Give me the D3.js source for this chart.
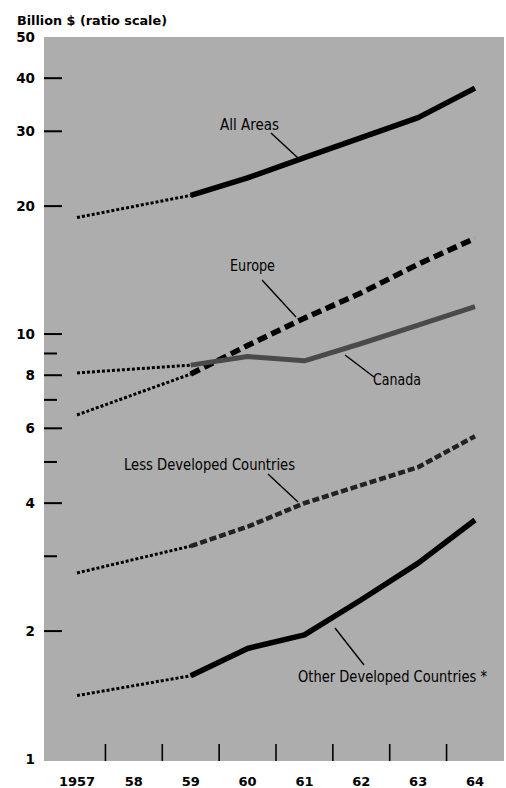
<!DOCTYPE html>
<html>
<head>
<meta charset="utf-8">
<script src="https://cdn.jsdelivr.net/npm/d3@7"></script>
<style>
  html, body { margin: 0; padding: 0; background: #ffffff; }
  svg { display: block; }
</style>
</head>
<body>
<div id="chart"></div>
<script>
// ---- data ----
const years = [1957, 1959, 1960, 1961, 1962, 1963, 1964];
const allAreas = [18.8, 21.2, 23.3, 26.0, 29.0, 32.3, 37.9];
const europe   = [6.45, 8.05, 9.4, 10.9, 12.5, 14.6, 16.8];
const canada   = [8.1, 8.45, 8.85, 8.65, 9.5, 10.5, 11.6];
const lessDeveloped  = [2.74, 3.17, 3.52, 4.0, 4.41, 4.86, 5.75];
const otherDeveloped = [1.41, 1.57, 1.82, 1.96, 2.37, 2.89, 3.65];

const xTickLabels = ["1957", "58", "59", "60", "61", "62", "63", "64"];
const xTickYears  = [1957, 1958, 1959, 1960, 1961, 1962, 1963, 1964];
const yLabeledTicks = [1, 2, 4, 6, 8, 10, 20, 30, 40, 50];
const yMinorTicks = [3, 5, 7, 9];
const yLongTicks = [2, 4, 6, 8, 10, 20, 30, 40];

const seriesNames = ["All Areas", "Europe", "Canada", "Less Developed Countries", "Other Developed Countries *"];

// ---- layout ----
const W = 506, H = 788;
const plot = { left: 44, right: 504, top: 37, bottom: 761 };

const svg = d3.select("#chart").append("svg").attr("width", W).attr("height", H);

const x = d3.scaleLinear().domain([1957, 1964]).range([77, 475]);
const y = d3.scaleLog().domain([1, 50]).range([759, 37]);

// background panel
svg.append("rect")
  .attr("x", plot.left).attr("y", plot.top)
  .attr("width", plot.right - plot.left).attr("height", plot.bottom - plot.top)
  .attr("fill", "#adadad");

// title
svg.append("text")
  .attr("x", 17).attr("y", 25)
  .attr("font-family", "DejaVu Sans, sans-serif")
  .attr("font-weight", "bold").attr("font-size", 13)
  .attr("textLength", 150).attr("lengthAdjust", "spacingAndGlyphs")
  .attr("fill", "#000")
  .text("Billion $ (ratio scale)");

// y ticks
const yAxisG = svg.append("g");
yAxisG.selectAll("line.long").data(yLongTicks).join("line")
  .attr("x1", plot.left).attr("x2", plot.left + 18)
  .attr("y1", d => y(d)).attr("y2", d => y(d))
  .attr("stroke", "#000").attr("stroke-width", 2);
yAxisG.selectAll("line.minor").data(yMinorTicks).join("line")
  .attr("x1", plot.left).attr("x2", plot.left + 13)
  .attr("y1", d => y(d)).attr("y2", d => y(d))
  .attr("stroke", "#000").attr("stroke-width", 2);
yAxisG.selectAll("text").data(yLabeledTicks).join("text")
  .attr("x", 35).attr("y", d => y(d) + 5)
  .attr("text-anchor", "end")
  .attr("font-family", "DejaVu Sans, sans-serif")
  .attr("font-weight", "bold").attr("font-size", 13.5)
  .attr("fill", "#000")
  .text(d => d);

// x ticks between years
const xMid = d3.range(1957.5, 1964, 1);
svg.append("g").selectAll("line").data(xMid).join("line")
  .attr("x1", d => x(d)).attr("x2", d => x(d))
  .attr("y1", plot.bottom - 17).attr("y2", plot.bottom)
  .attr("stroke", "#000").attr("stroke-width", 1.6);
svg.append("g").selectAll("text").data(xTickYears).join("text")
  .attr("x", d => x(d)).attr("y", 786)
  .attr("text-anchor", "middle")
  .attr("font-family", "DejaVu Sans, sans-serif")
  .attr("font-weight", "bold").attr("font-size", 13)
  .attr("fill", "#000")
  .text((d, i) => xTickLabels[i]);

// lines
const line = d3.line().x(d => x(d[0])).y(d => y(d[1]));

const series = [
  { name: seriesNames[0], values: allAreas, color: "#000", width: 5.5, dash: null },
  { name: seriesNames[1], values: europe, color: "#000", width: 5.5, dash: "10,5" },
  { name: seriesNames[2], values: canada, color: "#4a4a4a", width: 5, dash: null },
  { name: seriesNames[3], values: lessDeveloped, color: "#222", width: 4.5, dash: "7,3" },
  { name: seriesNames[4], values: otherDeveloped, color: "#000", width: 5.5, dash: null }
];

const linesG = svg.append("g");
series.forEach(s => {
  const pts = years.map((yr, i) => [yr, s.values[i]]);
  // dotted 1957-59 segment
  linesG.append("path")
    .attr("d", line(pts.slice(0, 2)))
    .attr("fill", "none").attr("stroke", "#000")
    .attr("stroke-width", 3).attr("stroke-dasharray", "3,2");
  // main segment 1959-64
  const p = linesG.append("path")
    .attr("d", line(pts.slice(1)))
    .attr("fill", "none").attr("stroke", s.color)
    .attr("stroke-width", s.width)
    .attr("stroke-linejoin", "round");
  if (s.dash) p.attr("stroke-dasharray", s.dash);
});

// labels and pointers
const labels = [
  { text: seriesNames[0], x: 220, y: 130, w: 59, p: [[271, 133], [298, 158]] },
  { text: seriesNames[1], x: 230, y: 271, w: 45, p: [[262, 280], [296, 317]] },
  { text: seriesNames[2], x: 373, y: 385, w: 48, p: [[374, 377], [345, 355]] },
  { text: seriesNames[3], x: 124, y: 470, w: 171, p: [[268, 474], [298, 502]] },
  { text: seriesNames[4], x: 298, y: 682, w: 189, p: [[364, 665], [335, 628]] }
];
const labG = svg.append("g");
labels.forEach(l => {
  labG.append("text")
    .attr("x", l.x).attr("y", l.y)
    .attr("font-family", "Liberation Sans Narrow, DejaVu Sans Condensed, sans-serif")
    .attr("font-size", 16)
    .attr("textLength", l.w).attr("lengthAdjust", "spacingAndGlyphs")
    .attr("fill", "#000")
    .text(l.text);
  labG.append("line")
    .attr("x1", l.p[0][0]).attr("y1", l.p[0][1])
    .attr("x2", l.p[1][0]).attr("y2", l.p[1][1])
    .attr("stroke", "#000").attr("stroke-width", 1.4);
});
</script>
</body>
</html>
